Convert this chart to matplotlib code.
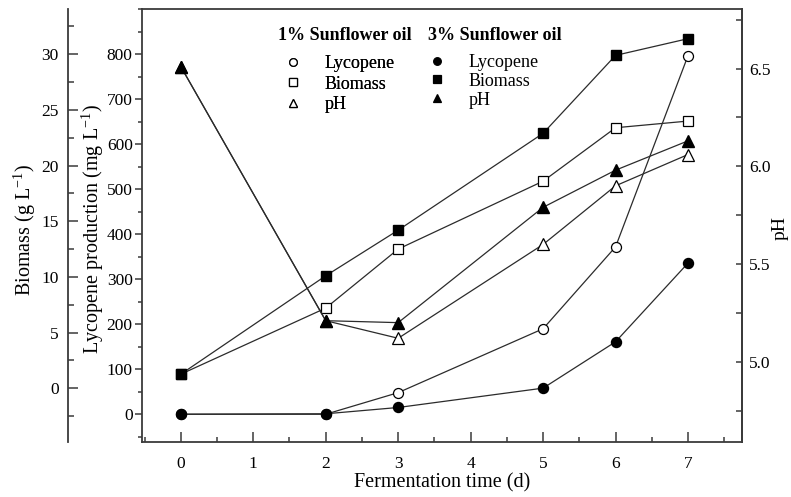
import matplotlib
matplotlib.use("Agg")
import matplotlib.pyplot as plt
from matplotlib.ticker import MultipleLocator, FormatStrFormatter
from matplotlib.lines import Line2D

plt.rcParams["font.family"] = ["Liberation Serif", "DejaVu Serif"]
plt.rcParams["mathtext.fontset"] = "custom"
plt.rcParams["mathtext.rm"] = "Liberation Serif"
plt.rcParams["mathtext.it"] = "Liberation Serif:italic"

# Fermentation time (d)
days = [0, 2, 3, 5, 6, 7]
# Lycopene production (mg/L)
lyc_1pct = [0, 0, 48, 190, 372, 797]
lyc_3pct = [0, 1, 15, 58, 161, 336]
# Biomass (g/L)
bio_1pct = [1.26, 7.2, 12.5, 18.6, 23.4, 24.0]
bio_3pct = [1.26, 10.1, 14.2, 22.9, 29.9, 31.4]
# pH
ph_1pct = [6.51, 5.21, 5.12, 5.60, 5.90, 6.06]
ph_3pct = [6.51, 5.21, 5.20, 5.79, 5.98, 6.13]

x_ticks = [0, 1, 2, 3, 4, 5, 6, 7]
lyc_ticks = [0, 100, 200, 300, 400, 500, 600, 700, 800]
bio_ticks = [0, 5, 10, 15, 20, 25, 30]
ph_ticks = [5.0, 5.5, 6.0, 6.5]

LINE = "#2b2b2b"
SPINE = "#3a3a3a"
TICK_FS = 12.5
LABEL_FS = 14.5

fig = plt.figure(figsize=(7.91, 4.97), dpi=100)
ax = fig.add_axes([0.1791, 0.1113, 0.7585, 0.8700])
ax_bio = ax.twinx()
ax_ph = ax.twinx()

# ---- lycopene on the main axis
ax.set_xlim(-0.54, 7.74)
ax.set_ylim(-61, 900)
ms = 7.2
ax.plot(days, lyc_1pct, color=LINE, lw=0.9, marker="o", ms=ms,
        mfc="white", mec="black", mew=0.9, zorder=3)
ax.plot(days, lyc_3pct, color=LINE, lw=0.9, marker="o", ms=ms,
        mfc="black", mec="black", zorder=4)

# ---- biomass on the outer left axis
ax_bio.set_ylim(-4.8, 34.04)
ax_bio.plot(days, bio_1pct, color=LINE, lw=0.9, marker="s", ms=7,
            mfc="white", mec="black", mew=0.9, zorder=3)
ax_bio.plot(days, bio_3pct, color=LINE, lw=0.9, marker="s", ms=7,
            mfc="black", mec="black", zorder=4)

# ---- pH on the right axis
ax_ph.set_ylim(4.591, 6.803)
ax_ph.plot(days, ph_1pct, color=LINE, lw=0.9, marker="^", ms=8,
           mfc="white", mec="black", mew=0.9, zorder=3)
ax_ph.plot(days, ph_3pct, color=LINE, lw=0.9, marker="^", ms=8,
           mfc="black", mec="black", zorder=4)

# ---- spines
for a in (ax, ax_bio, ax_ph):
    for s in a.spines.values():
        s.set_color(SPINE)
        s.set_linewidth(1.3)

for side in ("top", "right", "bottom"):
    ax_bio.spines[side].set_visible(False)
ax_bio.spines["left"].set_visible(True)
ax_bio.spines["left"].set_position(("axes", -0.1223))
ax_bio.yaxis.set_ticks_position("left")
ax_bio.yaxis.set_label_position("left")
ax_bio.patch.set_visible(False)

for side in ("top", "left", "bottom"):
    ax_ph.spines[side].set_visible(False)

# ---- x axis
ax.set_xticks(x_ticks)
ax.xaxis.set_minor_locator(MultipleLocator(0.5))
ax.tick_params(axis="x", which="major", direction="in", length=7,
               width=1.1, color=SPINE, labelsize=TICK_FS, pad=10)
ax.tick_params(axis="x", which="minor", direction="in", length=3.5,
               width=1.1, color=SPINE)
ax.set_xlabel("Fermentation time (d)", fontsize=LABEL_FS)
ax.xaxis.label.set_verticalalignment("center")
ax.xaxis.set_label_coords(0.5, -0.0955)

# ---- lycopene axis
ax.set_yticks(lyc_ticks)
ax.yaxis.set_minor_locator(MultipleLocator(50))
ax.tick_params(axis="y", which="major", direction="out", length=5,
               width=1.1, color=SPINE, labelsize=TICK_FS, pad=1.5)
ax.tick_params(axis="y", which="minor", direction="out", length=3,
               width=1.1, color=SPINE)
ax.set_ylabel(r"Lycopene production (mg L$^{-1}$)", fontsize=LABEL_FS)
ax.yaxis.label.set_verticalalignment("center")
ax.yaxis.set_label_coords(-0.081, 0.492)

# ---- biomass axis
ax_bio.set_yticks(bio_ticks)
ax_bio.yaxis.set_minor_locator(MultipleLocator(2.5))
ax_bio.tick_params(axis="y", which="major", direction="in", length=7,
                   width=1.1, color=SPINE, labelsize=TICK_FS, pad=7)
ax_bio.tick_params(axis="y", which="minor", direction="in", length=4,
                   width=1.1, color=SPINE)
ax_bio.set_ylabel(r"Biomass (g L$^{-1}$)", fontsize=LABEL_FS)
ax_bio.yaxis.label.set_verticalalignment("center")
ax_bio.yaxis.set_label_coords(-0.194, 0.49)

# ---- pH axis
ax_ph.set_yticks(ph_ticks)
ax_ph.yaxis.set_major_formatter(FormatStrFormatter("%.1f"))
ax_ph.yaxis.set_minor_locator(MultipleLocator(0.25))
ax_ph.tick_params(axis="y", which="major", direction="in", length=4,
                  width=1.1, color=SPINE, labelsize=TICK_FS, pad=5.5)
ax_ph.tick_params(axis="y", which="minor", direction="in", length=4,
                  width=1.1, color=SPINE)
ax_ph.set_ylabel("pH", fontsize=LABEL_FS - 0.5)
ax_ph.yaxis.label.set_verticalalignment("center")
ax_ph.yaxis.set_label_coords(1.064, 0.495)


# ---- legends: bold group titles with marker keys beneath
def handles(face):
    return [
        Line2D([], [], ls="none", marker="o", ms=5.5, mfc=face, mec="black", mew=0.9),
        Line2D([], [], ls="none", marker="s", ms=5.5, mfc=face, mec="black", mew=0.9),
        Line2D([], [], ls="none", marker="^", ms=6, mfc=face, mec="black", mew=0.9),
    ]


names = ["Lycopene", "Biomass", "pH"]
W, H = 791, 497

fig.text(278 / W, 1 - 35.5 / H, "1% Sunflower oil", fontsize=13,
         fontweight="bold", ha="left", va="center")
fig.text(428.3 / W, 1 - 35.5 / H, "3% Sunflower oil", fontsize=13,
         fontweight="bold", ha="left", va="center")

leg1 = fig.legend(handles("white"), names, loc="upper left",
                  bbox_to_anchor=(278 / W, 1 - 55 / H),
                  frameon=False, fontsize=13, borderpad=0, borderaxespad=0,
                  handlelength=1.7, handletextpad=0.9, labelspacing=0.2)
leg2 = fig.legend(handles("black"), names, loc="upper left",
                  bbox_to_anchor=(428.3 / W, 1 - 54 / H),
                  frameon=False, fontsize=13, borderpad=0, borderaxespad=0,
                  handlelength=0.93, handletextpad=1.29, labelspacing=0.1)
fig.add_artist(leg1)

fig.savefig("out.png", dpi=100)
